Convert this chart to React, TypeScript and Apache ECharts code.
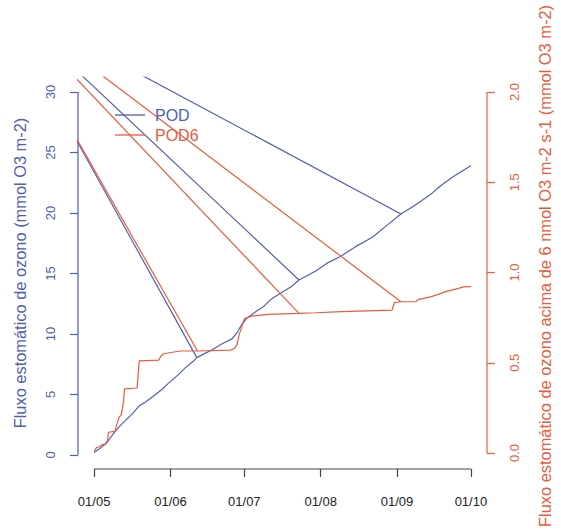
import React, { useEffect, useRef } from "react";
import * as echarts from "echarts";

// ---- Data ----
const xTickDays = [0, 31, 61, 92, 123, 153];
const xTickLabels = ["01/05", "01/06", "01/07", "01/08", "01/09", "01/10"];
const leftTicks = [0, 5, 10, 15, 20, 25, 30];
const rightTicks = [0, 0.5, 1, 1.5, 2];

const podDays = [0, 2, 5, 8, 10, 13, 16, 18, 21, 25, 28, 30, 34, 37, 40, 41.7, 45, 48, 52, 56, 58, 60, 62, 66, 69, 72, 76, 80, 83.2, 90, 95, 100, 106, 113, 119, 124.6, 130, 137, 141, 145, 149, 153];
const podValues = [0.2, 0.5, 0.97, 1.8, 2.3, 2.9, 3.5, 4.0, 4.4, 5.0, 5.5, 5.9, 6.6, 7.2, 7.7, 8.05, 8.4, 8.7, 9.2, 9.6, 10.1, 10.8, 11.3, 11.9, 12.3, 12.9, 13.4, 13.9, 14.46, 15.2, 15.9, 16.4, 17.2, 18.0, 19.0, 19.92, 20.6, 21.6, 22.3, 22.9, 23.4, 23.9];

const pod6Days = [0, 1, 2, 3, 4.5, 5.5, 5.8, 8.5, 9, 9.5, 10.2, 11, 11.5, 12, 12.3, 17.5, 17.9, 18.3, 26.3, 27, 28.2, 35, 42, 55.5, 57, 58, 59, 60, 61, 64, 70.5, 83.2, 90, 100.6, 121, 121.9, 124.6, 130.6, 131.5, 137, 140, 142.7, 146, 148, 150, 153];
const pod6Values = [0.01, 0.03, 0.035, 0.045, 0.05, 0.07, 0.115, 0.12, 0.15, 0.17, 0.2, 0.21, 0.25, 0.29, 0.355, 0.36, 0.44, 0.51, 0.515, 0.535, 0.55, 0.565, 0.565, 0.57, 0.58, 0.6, 0.66, 0.7, 0.745, 0.758, 0.768, 0.774, 0.777, 0.783, 0.792, 0.833, 0.838, 0.838, 0.85, 0.866, 0.88, 0.894, 0.905, 0.912, 0.92, 0.922];

// stray records (dated before the window) that the series jumps to, then returns from
const podJumpAfter = [41.7, 83.2, 124.6];
const podJumpDay = [-13.8, -13.8, -13.8];
const podJumpValue = [28.46, 33.06, 35.0];
const pod6JumpAfter = [42, 83.2, 124.6];
const pod6JumpDay = [-13.8, -13.8, -13.8];
const pod6JumpValue = [1.901, 2.168, 2.268];

const BLUE = "#5060ae";
const RED = "#ea5b3d";
const FONT = "'Liberation Sans', Arial, sans-serif";

function buildSeries(days: number[], vals: number[], after: number[], jd: number[], jv: number[]) {
  const out: number[][] = [];
  days.forEach((d, i) => {
    out.push([d, vals[i]]);
    const k = after.indexOf(d);
    if (k >= 0) {
      out.push([jd[k], jv[k]]);
      out.push([d, vals[i]]);
    }
  });
  return out;
}

const X_MIN = -6.54, X_MAX = 159.54;
const L_MIN = -1.157, L_MAX = 31.24;
const R_MIN = -0.0886, R_MAX = 2.083;

export default function App() {
  const ref = useRef<HTMLDivElement>(null);
  useEffect(() => {
    const chart = echarts.init(ref.current!, null, { renderer: "svg" });
    const option: any = {
      animation: false,
      backgroundColor: "#ffffff",
      textStyle: { fontFamily: FONT },
      grid: { left: 78, right: 69, top: 77, bottom: 62, containLabel: false },
      legend: {
        left: 110,
        top: 102,
        orient: "vertical",
        icon: "rect",
        itemWidth: 30,
        itemHeight: 1.3,
        itemGap: 4,
        textStyle: { fontSize: 16, lineHeight: 16, fontFamily: FONT, padding: [0, 0, 0, 5] },
        data: [
          { name: "POD", textStyle: { color: BLUE } },
          { name: "POD6", textStyle: { color: RED } },
        ],
      },
      xAxis: {
        type: "value",
        min: X_MIN,
        max: X_MAX,
        axisLine: { show: false, onZero: false },
        splitLine: { show: false },
        axisTick: { show: true, length: 8, customValues: xTickDays, lineStyle: { color: "#444", width: 1.2 } },
        axisLabel: {
          customValues: xTickDays,
          margin: 26,
          fontSize: 13,
          color: "#222",
          fontFamily: FONT,
          formatter: (v: number) => {
            const i = xTickDays.indexOf(v);
            return i >= 0 ? xTickLabels[i] : "";
          },
        },
      },
      yAxis: [
        {
          type: "value",
          position: "left",
          min: L_MIN,
          max: L_MAX,
          axisLine: { show: false, onZero: false },
          splitLine: { show: false },
          axisTick: { show: true, length: 8, customValues: leftTicks, lineStyle: { color: BLUE, width: 1.2 } },
          axisLabel: { customValues: leftTicks, rotate: 90, margin: 21, fontSize: 13, color: BLUE, fontFamily: FONT, formatter: (v: number) => String(v) },
          name: "Fluxo estomático de ozono (mmol O3 m-2)",
          nameLocation: "middle",
          nameRotate: 90,
          nameGap: 50,
          nameTextStyle: { fontSize: 16.4, color: BLUE, fontFamily: FONT },
        },
        {
          type: "value",
          position: "right",
          min: R_MIN,
          max: R_MAX,
          axisLine: { show: false, onZero: false },
          splitLine: { show: false },
          axisTick: { show: true, length: 8, customValues: rightTicks, lineStyle: { color: RED, width: 1.2 } },
          axisLabel: { customValues: rightTicks, rotate: 90, margin: 21, fontSize: 13, color: RED, fontFamily: FONT, formatter: (v: number) => v.toFixed(1) },
          name: "Fluxo estomático de ozono acima de 6 nmol O3 m-2 s-1 (mmol O3 m-2)",
          nameLocation: "middle",
          nameRotate: 90,
          nameGap: 50,
          nameTextStyle: { fontSize: 16.4, color: RED, fontFamily: FONT, padding: [0, 0, 0, 14] },
        },
      ],
      series: [
        {
          name: "POD",
          type: "line",
          yAxisIndex: 0,
          symbol: "none",
          showSymbol: false,
          clip: true,
          color: BLUE,
          lineStyle: { color: BLUE, width: 1.2 },
          data: buildSeries(podDays, podValues, podJumpAfter, podJumpDay, podJumpValue),
        },
        {
          name: "POD6",
          type: "line",
          yAxisIndex: 1,
          symbol: "none",
          showSymbol: false,
          clip: true,
          color: RED,
          lineStyle: { color: RED, width: 1.2 },
          data: buildSeries(pod6Days, pod6Values, pod6JumpAfter, pod6JumpDay, pod6JumpValue),
        },
      ],
    };
    chart.setOption(option);

    const pL = (x: number, y: number) => chart.convertToPixel({ xAxisIndex: 0, yAxisIndex: 0 }, [x, y]) as number[];
    const pR = (x: number, y: number) => chart.convertToPixel({ xAxisIndex: 0, yAxisIndex: 1 }, [x, y]) as number[];
    const l0 = pL(X_MIN, leftTicks[0]);
    const l1 = pL(X_MIN, leftTicks[leftTicks.length - 1]);
    const r0 = pR(X_MAX, rightTicks[0]);
    const r1 = pR(X_MAX, rightTicks[rightTicks.length - 1]);
    const b0 = pL(xTickDays[0], L_MIN);
    const b1 = pL(xTickDays[xTickDays.length - 1], L_MIN);
    chart.setOption({
      graphic: [
        { type: "line", shape: { x1: l0[0], y1: l0[1], x2: l1[0], y2: l1[1] }, style: { stroke: BLUE, lineWidth: 1.2 } },
        { type: "line", shape: { x1: r0[0], y1: r0[1], x2: r1[0], y2: r1[1] }, style: { stroke: RED, lineWidth: 1.2 } },
        { type: "line", shape: { x1: b0[0], y1: b0[1], x2: b1[0], y2: b1[1] }, style: { stroke: "#444", lineWidth: 1.2 } },
      ],
    });
    return () => chart.dispose();
  }, []);
  return <div ref={ref} style={{ position: "fixed", left: 0, top: 0, width: 561, height: 531 }} />;
}
